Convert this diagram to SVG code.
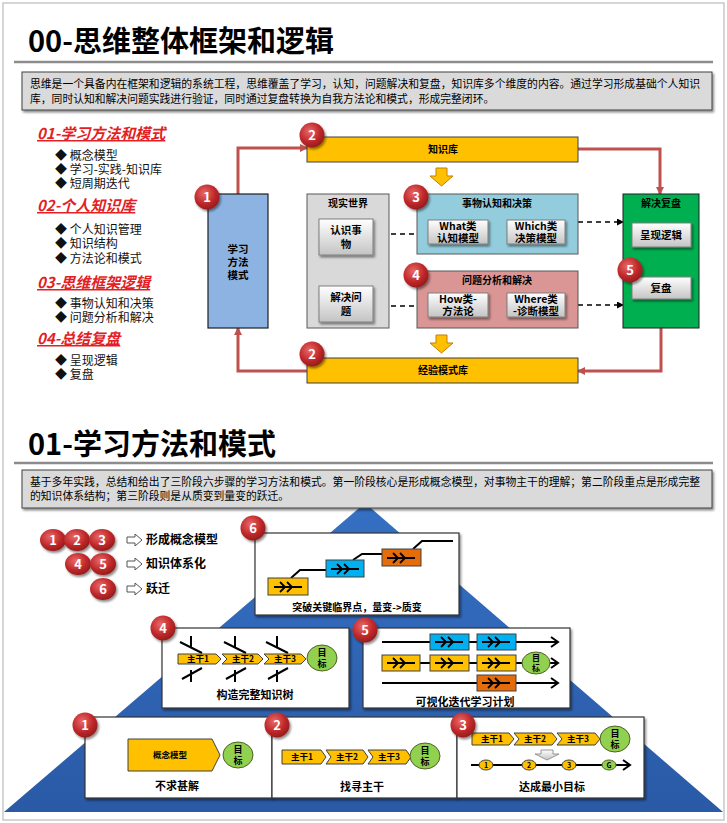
<svg xmlns="http://www.w3.org/2000/svg" width="727" height="823" viewBox="0 0 727 823">
<defs>
<style>
text{font-family:"Noto Sans CJK SC","Liberation Sans",sans-serif;fill:#000}
.title{font-size:29px;font-weight:bold}
.desc{font-size:10.8px}
.head{font-size:15px;font-weight:bold;font-style:italic;fill:#e31e24;text-decoration:underline}
.bul{font-size:12px;fill:#111}
.lbl{font-size:10px;font-weight:bold;text-anchor:middle}
.btn{font-size:10.5px;font-weight:bold;text-anchor:middle}
.num{font-size:13px;font-weight:bold;fill:#fff;text-anchor:middle}
.cap{font-size:11px;font-weight:bold;text-anchor:middle}
.chv{font-size:8.5px;font-weight:bold;text-anchor:middle}
.red{fill:none;stroke:#c0504d;stroke-width:3}
.dash{fill:none;stroke:#000;stroke-width:1.5;stroke-dasharray:5,4}
.ybox{fill:#ffc000;stroke:#404040;stroke-width:1}
.gbtn{fill:url(#gb);stroke:#7f7f7f;stroke-width:1}
.panel{fill:#fff;stroke:#333;stroke-width:1.2}
.goal{fill:#92d050;stroke:#4f6228;stroke-width:1}
.ln{fill:none;stroke:#000;stroke-width:2}
.ff{fill:none;stroke:#000;stroke-width:1.8}
.legtx{font-size:12px;font-weight:bold}
</style>
<radialGradient id="rg" cx="40%" cy="35%" r="70%">
<stop offset="0" stop-color="#e86a6a"/>
<stop offset="0.6" stop-color="#c0282a"/>
<stop offset="1" stop-color="#8e1a1a"/>
</radialGradient>
<linearGradient id="gb" x1="0" y1="0" x2="0" y2="1">
<stop offset="0" stop-color="#ffffff"/>
<stop offset="1" stop-color="#c4c4c4"/>
</linearGradient>
<linearGradient id="pyr" x1="0" y1="0" x2="0" y2="1">
<stop offset="0" stop-color="#3570c4"/>
<stop offset="1" stop-color="#2a5aa6"/>
</linearGradient>
<filter id="sh" x="-10%" y="-10%" width="130%" height="140%">
<feDropShadow dx="1.5" dy="2" stdDeviation="1.2" flood-color="#000" flood-opacity="0.45"/>
</filter>
<marker id="ar" markerWidth="10" markerHeight="10" refX="7" refY="4" orient="auto" markerUnits="userSpaceOnUse">
<path d="M0,0 L8,4 L0,8 Z" fill="#c0504d"/>
</marker>
<marker id="ak" markerWidth="8" markerHeight="8" refX="6" refY="3.5" orient="auto" markerUnits="userSpaceOnUse">
<path d="M0,0 L7,3.5 L0,7 Z" fill="#000"/>
</marker>
<marker id="ao" markerWidth="12" markerHeight="12" refX="8" refY="6" orient="auto" markerUnits="userSpaceOnUse">
<path d="M1,1 L8,6 L1,11" fill="none" stroke="#000" stroke-width="2"/>
</marker>
<g id="ffs">
<path class="ff" d="M-14,0 H14 M-8,-5 L-3,0 L-8,5 M-1,-5 L4,0 L-1,5"/>
</g>
<g id="badge">
<circle r="12.5" fill="url(#rg)" filter="url(#sh)"/>
</g>
</defs>

<rect x="3" y="3" width="721" height="817" fill="#fff" stroke="#c9c9c9" stroke-width="1.5"/>

<!-- Section 00 -->
<g id="title00">
<text class="title" x="28" y="52">00-思维整体框架和逻辑</text>
<line x1="14" y1="62" x2="713" y2="62" stroke="#8c8c8c" stroke-width="2.5"/>
</g>
<g id="desc00">
<rect x="22" y="72" width="690" height="38" fill="#dadada" stroke="#404040" stroke-width="1" filter="url(#sh)"/>
<text class="desc" x="30" y="88" textLength="670" lengthAdjust="spacingAndGlyphs">思维是一个具备内在框架和逻辑的系统工程，思维覆盖了学习，认知，问题解决和复盘，知识库多个维度的内容。通过学习形成基础个人知识</text>
<text class="desc" x="30" y="103">库，同时认知和解决问题实践进行验证，同时通过复盘转换为自我方法论和模式，形成完整闭环。</text>
</g>

<g id="outline">
<text class="head" x="37" y="139">01-学习方法和模式</text>
<text class="bul" x="55" y="160">◆ 概念模型</text>
<text class="bul" x="55" y="174">◆ 学习-实践-知识库</text>
<text class="bul" x="55" y="188">◆ 短周期迭代</text>
<text class="head" x="37" y="211">02-个人知识库</text>
<text class="bul" x="55" y="234">◆ 个人知识管理</text>
<text class="bul" x="55" y="248">◆ 知识结构</text>
<text class="bul" x="55" y="263">◆ 方法论和模式</text>
<text class="head" x="37" y="288">03-思维框架逻辑</text>
<text class="bul" x="55" y="308">◆ 事物认知和决策</text>
<text class="bul" x="55" y="322">◆ 问题分析和解决</text>
<text class="head" x="37" y="344">04-总结复盘</text>
<text class="bul" x="55" y="365">◆ 呈现逻辑</text>
<text class="bul" x="55" y="379">◆ 复盘</text>
</g>

<g id="connectors">
<path class="red" d="M238,194 V148 H307" marker-end="url(#ar)"/>
<path class="red" d="M578,149 H660 V194" marker-end="url(#ar)"/>
<path class="red" d="M661,328 V371 H578" marker-end="url(#ar)"/>
<path class="red" d="M307,371 H238 V328" marker-end="url(#ar)"/>
<path class="dash" d="M373,234 H428" marker-end="url(#ak)"/>
<path class="dash" d="M373,306 H428" marker-end="url(#ak)"/>
<path class="dash" d="M578,222 H623" marker-end="url(#ak)"/>
<path class="dash" d="M578,305 H623" marker-end="url(#ak)"/>
<path class="dash" d="M661,247 V277" marker-end="url(#ak)"/>
</g>

<g id="learn">
<rect x="208" y="194" width="60" height="134" fill="#8db3e2" stroke="#1f1f1f" stroke-width="1.2"/>
<text class="btn" x="238" y="253">学习</text>
<text class="btn" x="238" y="266">方法</text>
<text class="btn" x="238" y="279">模式</text>
</g>
<g id="kb">
<rect x="307" y="137" width="271" height="25" class="ybox"/>
<text class="lbl" x="443" y="153">知识库</text>
<path d="M436,168 H447 V176 H453 L441.5,186 L430,176 H436 Z" fill="#ffc000" stroke="#c08000" stroke-width="1"/>
</g>
<g id="real">
<rect x="307" y="194" width="82" height="134" fill="#d9d9d9" stroke="#595959" stroke-width="1"/>
<text class="lbl" x="348" y="207">现实世界</text>
<rect x="319" y="219" width="54" height="36" class="gbtn" filter="url(#sh)"/>
<text class="btn" x="346" y="234">认识事</text>
<text class="btn" x="346" y="248">物</text>
<rect x="319" y="286" width="54" height="36" class="gbtn" filter="url(#sh)"/>
<text class="btn" x="346" y="301">解决问</text>
<text class="btn" x="346" y="315">题</text>
</g>
<g id="cognition">
<rect x="417" y="194" width="161" height="60" fill="#93cddd" stroke="#595959" stroke-width="1"/>
<text class="lbl" x="497" y="207">事物认知和决策</text>
<rect x="428" y="220" width="60" height="24" class="gbtn" filter="url(#sh)"/>
<text class="btn" x="458" y="230">What类</text>
<text class="btn" x="458" y="242">认知模型</text>
<rect x="507" y="220" width="58" height="24" class="gbtn" filter="url(#sh)"/>
<text class="btn" x="536" y="230">Which类</text>
<text class="btn" x="536" y="242">决策模型</text>
</g>
<g id="problem">
<rect x="417" y="271" width="161" height="57" fill="#da9694" stroke="#595959" stroke-width="1"/>
<text class="lbl" x="497" y="284">问题分析和解决</text>
<rect x="428" y="293" width="60" height="24" class="gbtn" filter="url(#sh)"/>
<text class="btn" x="458" y="303">How类-</text>
<text class="btn" x="458" y="315">方法论</text>
<rect x="507" y="293" width="58" height="24" class="gbtn" filter="url(#sh)"/>
<text class="btn" x="536" y="303">Where类</text>
<text class="btn" x="536" y="315">-诊断模型</text>
</g>
<g id="review">
<rect x="623" y="194" width="76" height="134" fill="#00b050" stroke="#1f1f1f" stroke-width="1"/>
<text class="lbl" x="661" y="207">解决复盘</text>
<rect x="632" y="223" width="59" height="24" class="gbtn" filter="url(#sh)"/>
<text class="btn" x="661" y="239">呈现逻辑</text>
<rect x="632" y="277" width="59" height="22" class="gbtn" filter="url(#sh)"/>
<text class="btn" x="661" y="292">复盘</text>
</g>
<g id="exp">
<path d="M436,335 H447 V343 H453 L441.5,353 L430,343 H436 Z" fill="#ffc000" stroke="#c08000" stroke-width="1"/>
<rect x="307" y="358" width="271" height="25" class="ybox"/>
<text class="lbl" x="443" y="374">经验模式库</text>
</g>
<g id="badges00">
<use href="#badge" x="207" y="197"/><text class="num" x="207" y="202">1</text>
<use href="#badge" x="312" y="135"/><text class="num" x="312" y="140">2</text>
<use href="#badge" x="416" y="197"/><text class="num" x="416" y="202">3</text>
<use href="#badge" x="416" y="275"/><text class="num" x="416" y="280">4</text>
<use href="#badge" x="630" y="270"/><text class="num" x="630" y="275">5</text>
<use href="#badge" x="312" y="354"/><text class="num" x="312" y="359">2</text>
</g>

<!-- Section 01 -->
<g id="title01">
<text class="title" x="28" y="455">01-学习方法和模式</text>
<line x1="14" y1="463" x2="713" y2="463" stroke="#8c8c8c" stroke-width="2.5"/>
</g>
<g id="pyramid">
<polygon points="365,503 4,812 723,812" fill="url(#pyr)"/>
</g>
<g id="desc01">
<rect x="22" y="470" width="690" height="38" fill="#dadada" stroke="#404040" stroke-width="1" filter="url(#sh)"/>
<text class="desc" x="30" y="486" textLength="670" lengthAdjust="spacingAndGlyphs">基于多年实践，总结和给出了三阶段六步骤的学习方法和模式。第一阶段核心是形成概念模型，对事物主干的理解；第二阶段重点是形成完整</text>
<text class="desc" x="30" y="500">的知识体系结构；第三阶段则是从质变到量变的跃迁。</text>
</g>

<g id="legend">
<ellipse cx="53" cy="540" rx="13" ry="11" fill="url(#rg)" filter="url(#sh)"/><text class="num" x="53" y="545">1</text>
<ellipse cx="77" cy="540" rx="13" ry="11" fill="url(#rg)" filter="url(#sh)"/><text class="num" x="77" y="545">2</text>
<ellipse cx="102" cy="540" rx="13" ry="11" fill="url(#rg)" filter="url(#sh)"/><text class="num" x="102" y="545">3</text>
<ellipse cx="78" cy="564" rx="13" ry="11" fill="url(#rg)" filter="url(#sh)"/><text class="num" x="78" y="569">4</text>
<ellipse cx="103" cy="564" rx="13" ry="11" fill="url(#rg)" filter="url(#sh)"/><text class="num" x="103" y="569">5</text>
<ellipse cx="103" cy="589" rx="13" ry="11" fill="url(#rg)" filter="url(#sh)"/><text class="num" x="103" y="594">6</text>
<path d="M127,537 H135 V534 L142,540 L135,546 V543 H127 Z" fill="#fff" stroke="#555" stroke-width="1"/>
<path d="M127,561 H135 V558 L142,564 L135,570 V567 H127 Z" fill="#fff" stroke="#555" stroke-width="1"/>
<path d="M127,586 H135 V583 L142,589 L135,595 V592 H127 Z" fill="#fff" stroke="#555" stroke-width="1"/>
<text class="legtx" x="146" y="544">形成概念模型</text>
<text class="legtx" x="146" y="568">知识体系化</text>
<text class="legtx" x="146" y="593">跃迁</text>
</g>

<g id="step6">
<rect x="255" y="533" width="204" height="82" class="panel" filter="url(#sh)"/>
<path class="ln" d="M291,578 L300,570 H326 M353,560 L362,554 H382 M413,549 L422,541 H453"/>
<rect x="268" y="578" width="40" height="17" fill="#ffc000" stroke="#404040"/>
<rect x="326" y="560" width="38" height="17" fill="#00b0f0" stroke="#404040"/>
<rect x="382" y="549" width="39" height="17" fill="#e46c0a" stroke="#404040"/>
<use href="#ffs" x="288" y="587"/>
<use href="#ffs" x="345" y="569"/>
<use href="#ffs" x="401" y="558"/>
<text class="cap" x="357" y="611" style="font-size:10px">突破关键临界点，量变-&gt;质变</text>
<use href="#badge" x="253" y="528"/><text class="num" x="253" y="533">6</text>
</g>

<g id="step4">
<rect x="162" y="628" width="187" height="80" class="panel" filter="url(#sh)"/>
<path class="ln" d="M180,642 L202,653 M191,636 V648 M224,642 L246,653 M235,636 V648 M266,642 L288,653 M277,636 V648"/>
<path class="ln" d="M182,679 L202,668 M191,670 V682 M226,679 L246,668 M235,670 V682 M268,679 L288,668 M277,670 V682"/>
<path d="M178,654 H216 L221,659 L216,664 H178 Z" class="ybox"/>
<path d="M222,654 H258 L263,659 L258,664 H222 L227,659 Z" class="ybox"/>
<path d="M264,654 H301 L306,659 L301,664 H264 L269,659 Z" class="ybox"/>
<text class="chv" x="198" y="662">主干1</text>
<text class="chv" x="243" y="662">主干2</text>
<text class="chv" x="285" y="662">主干3</text>
<ellipse cx="322" cy="658" rx="15" ry="13" class="goal"/>
<text class="chv" x="322" y="656" style="font-size:9px">目</text>
<text class="chv" x="322" y="667" style="font-size:9px">标</text>
<text class="cap" x="255" y="699">构造完整知识树</text>
<use href="#badge" x="163" y="628"/><text class="num" x="163" y="633">4</text>
</g>

<g id="step5">
<rect x="363" y="628" width="207" height="80" class="panel" filter="url(#sh)"/>
<path class="ln" d="M382,642 H558" marker-end="url(#ao)"/>
<path class="ln" d="M382,663 H558" marker-end="url(#ao)"/>
<path class="ln" d="M382,683 H558" marker-end="url(#ao)"/>
<rect x="430" y="634" width="39" height="16" fill="#00b0f0" stroke="#404040"/>
<rect x="477" y="634" width="39" height="16" fill="#00b0f0" stroke="#404040"/>
<rect x="382" y="655" width="38" height="16" fill="#ffc000" stroke="#404040"/>
<rect x="430" y="655" width="39" height="16" fill="#ffc000" stroke="#404040"/>
<rect x="477" y="655" width="39" height="16" fill="#ffc000" stroke="#404040"/>
<rect x="477" y="675" width="39" height="16" fill="#e46c0a" stroke="#404040"/>
<use href="#ffs" x="449" y="642"/>
<use href="#ffs" x="496" y="642"/>
<use href="#ffs" x="401" y="663"/>
<use href="#ffs" x="449" y="663"/>
<use href="#ffs" x="496" y="663"/>
<use href="#ffs" x="496" y="683"/>
<ellipse cx="536" cy="663" rx="14" ry="11" class="goal"/>
<text class="chv" x="536" y="661" style="font-size:8px">目</text>
<text class="chv" x="536" y="671" style="font-size:8px">标</text>
<text class="cap" x="465" y="706">可视化迭代学习计划</text>
<use href="#badge" x="365" y="630"/><text class="num" x="365" y="635">5</text>
</g>

<g id="step1">
<rect x="85" y="717" width="187" height="81" class="panel" filter="url(#sh)"/>
<path d="M128,739 H212 L220,755 L212,771 H128 Z" class="ybox"/>
<text class="chv" x="170" y="758">概念模型</text>
<ellipse cx="238" cy="755" rx="15" ry="13" class="goal"/>
<text class="chv" x="238" y="753" style="font-size:9px">目</text>
<text class="chv" x="238" y="764" style="font-size:9px">标</text>
<text class="cap" x="177" y="790">不求甚解</text>
<use href="#badge" x="85" y="725"/><text class="num" x="85" y="730">1</text>
</g>

<g id="step2">
<rect x="272" y="717" width="185" height="81" class="panel" filter="url(#sh)"/>
<path d="M282,750 H321 L326,757 L321,764 H282 Z" class="ybox"/>
<path d="M326,750 H363 L368,757 L363,764 H326 L331,757 Z" class="ybox"/>
<path d="M368,750 H406 L411,757 L406,764 H368 L373,757 Z" class="ybox"/>
<text class="chv" x="302" y="760">主干1</text>
<text class="chv" x="347" y="760">主干2</text>
<text class="chv" x="389" y="760">主干3</text>
<ellipse cx="425" cy="756" rx="15" ry="13" class="goal"/>
<text class="chv" x="425" y="754" style="font-size:9px">目</text>
<text class="chv" x="425" y="765" style="font-size:9px">标</text>
<text class="cap" x="362" y="791">找寻主干</text>
<use href="#badge" x="277" y="725"/><text class="num" x="277" y="730">2</text>
</g>

<g id="step3">
<rect x="457" y="717" width="187" height="81" class="panel" filter="url(#sh)"/>
<path d="M472,733 H509 L514,739 L509,745 H472 Z" class="ybox"/>
<path d="M514,733 H552 L557,739 L552,745 H514 L519,739 Z" class="ybox"/>
<path d="M557,733 H595 L600,739 L595,745 H557 L562,739 Z" class="ybox"/>
<text class="chv" x="492" y="742">主干1</text>
<text class="chv" x="535" y="742">主干2</text>
<text class="chv" x="578" y="742">主干3</text>
<ellipse cx="615" cy="739" rx="15" ry="13" class="goal"/>
<text class="chv" x="615" y="737" style="font-size:9px">目</text>
<text class="chv" x="615" y="748" style="font-size:9px">标</text>
<path d="M541,750 H553 V754 H559 L547,760 L535,754 H541 Z" fill="url(#gb)" stroke="#7f7f7f" stroke-width="0.8"/>
<path class="ln" d="M471,765 H630" marker-end="url(#ao)"/>
<ellipse cx="486" cy="765" rx="7" ry="5" class="ybox"/>
<ellipse cx="529" cy="765" rx="7" ry="5" class="ybox"/>
<ellipse cx="569" cy="765" rx="7" ry="5" class="ybox"/>
<ellipse cx="609" cy="765" rx="7" ry="5" class="goal"/>
<text class="chv" x="486" y="768" style="font-size:7px">1</text>
<text class="chv" x="529" y="768" style="font-size:7px">2</text>
<text class="chv" x="569" y="768" style="font-size:7px">3</text>
<text class="chv" x="609" y="768" style="font-size:7px">G</text>
<text class="cap" x="552" y="791">达成最小目标</text>
<use href="#badge" x="463" y="725"/><text class="num" x="463" y="730">3</text>
</g>
</svg>
